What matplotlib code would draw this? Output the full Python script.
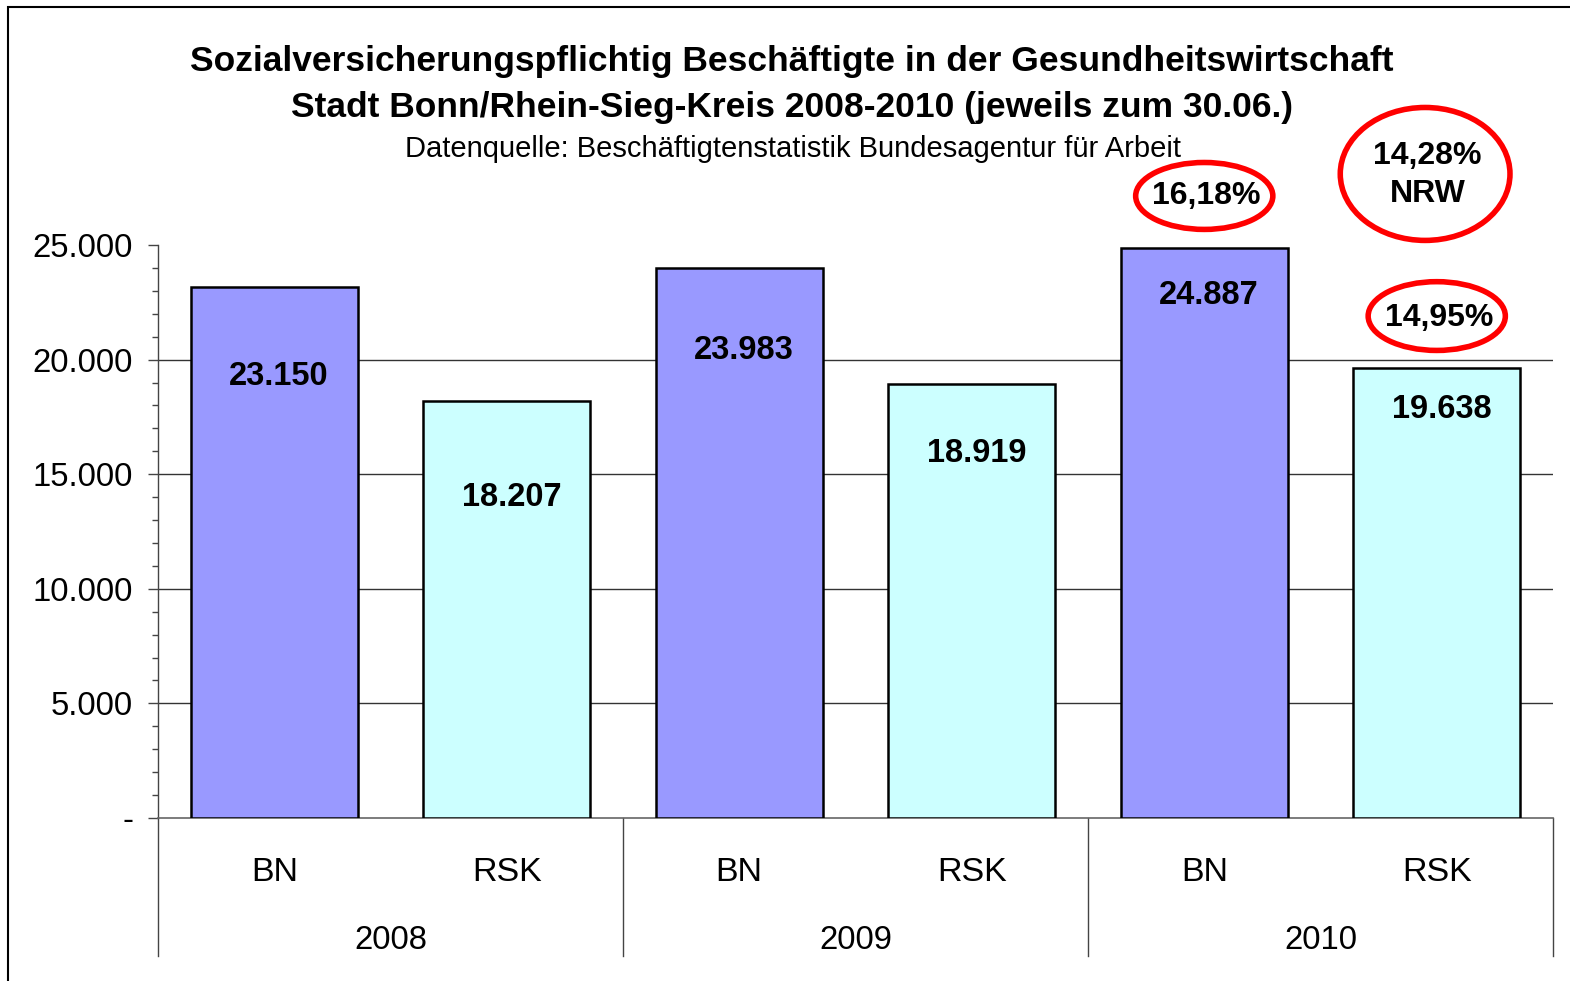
#!/usr/bin/env python3

import matplotlib
matplotlib.use("Agg")
import matplotlib.pyplot as plt
from matplotlib.patches import Ellipse, Rectangle
from matplotlib.ticker import FuncFormatter, MultipleLocator

plt.rcParams["font.family"] = ["Liberation Sans", "DejaVu Sans"]

years = ["2008", "2009", "2010"]
regions = ["BN", "RSK"]
values = [23150, 18207, 23983, 18919, 24887, 19638]
value_labels = ["23.150", "18.207", "23.983", "18.919", "24.887", "19.638"]
shares = ["16,18%", "14,95%"]
nrw_share = "14,28%"

colors = {"BN": "#9999ff", "RSK": "#ccffff"}

# label drop below bar top, pixels (as in the original layout)
label_drop = [89, 97, 82, 69, 48, 42]


def fmt(v, pos):
    if v == 0:
        return "-"
    return f"{int(v):,}".replace(",", ".")


fig = plt.figure(figsize=(15.7, 9.81), dpi=100)
ax = fig.add_axes([158 / 1570, 1 - 818 / 981, 1395 / 1570, 573 / 981])

n = len(values)
xs = list(range(n))
bar_colors = [colors[regions[i % 2]] for i in xs]
ax.bar(xs, values, width=0.72, color=bar_colors, edgecolor="black",
       linewidth=1.8, zorder=3)

for i, (v, lab) in enumerate(zip(values, value_labels)):
    ax.annotate(lab, (i + 0.02, v), xytext=(0, -label_drop[i]),
                textcoords="offset pixels", ha="center", va="center",
                fontsize=23.5, fontweight="bold", zorder=4)

ax.set_xlim(-0.5, n - 0.5)
ax.set_ylim(0, 25000)
ax.yaxis.set_major_locator(MultipleLocator(5000))
ax.yaxis.set_minor_locator(MultipleLocator(1000))
ax.yaxis.set_major_formatter(FuncFormatter(fmt))
ax.tick_params(axis="y", which="major", length=7, width=1, pad=11,
               labelsize=23.7, color="#444444")
ax.tick_params(axis="y", which="minor", length=4.5, width=1, color="#444444")

for y in [5000, 10000, 15000, 20000]:
    ax.axhline(y, color="#333333", linewidth=1, zorder=1)

ax.set_xticks(xs)
ax.set_xticklabels([regions[i % 2] for i in xs], fontsize=24.5)
ax.tick_params(axis="x", length=0, pad=28)

for s in ["top", "right"]:
    ax.spines[s].set_visible(False)
ax.spines["left"].set_color("#444444")
ax.spines["bottom"].set_color("#666666")
ax.spines["left"].set_linewidth(1)
ax.spines["bottom"].set_linewidth(1.2)

# group separators and year labels below the axis
trans = ax.get_xaxis_transform()
for k in range(len(years) + 1):
    ax.plot([-0.5 + 2 * k] * 2, [0, -0.24], transform=trans, color="#444444",
            linewidth=1, clip_on=False)
for k, yr in enumerate(years):
    ax.text(0.5 + 2 * k, -0.213, yr, transform=trans, ha="center",
            va="center", fontsize=23.7)

# red circled annotations
ell_kw = dict(fill=False, edgecolor="red", linewidth=4, clip_on=False,
              zorder=5)
ax.add_patch(Ellipse((4.0, 27140), 0.59, 2920, **ell_kw))
ax.text(4.01, 27140, shares[0], ha="center", va="center", fontsize=23,
        fontweight="bold", clip_on=False)
ax.add_patch(Ellipse((4.95, 28100), 0.73, 5800, **ell_kw))
ax.text(4.96, 28050, nrw_share + "\nNRW", ha="center", va="center",
        fontsize=23, fontweight="bold", linespacing=1.38, clip_on=False)
ax.add_patch(Ellipse((5.0, 21900), 0.59, 3000, **ell_kw))
ax.text(5.01, 21800, shares[1], ha="center", va="center", fontsize=23,
        fontweight="bold", clip_on=False)

# titles
fig.text(792 / 1570, 1 - 61 / 981,
         "Sozialversicherungspflichtig Beschäftigte in der Gesundheitswirtschaft",
         ha="center", va="center", fontsize=25.5, fontweight="bold")
fig.text(792 / 1570, 1 - 107 / 981,
         "Stadt Bonn/Rhein-Sieg-Kreis 2008-2010 (jeweils zum 30.06.)",
         ha="center", va="center", fontsize=25.5, fontweight="bold")
fig.text(793 / 1570, 1 - 149 / 981,
         "Datenquelle: Beschäftigtenstatistik Bundesagentur für Arbeit",
         ha="center", va="center", fontsize=21)

# outer frame
fig.patches.append(Rectangle((8 / 1570, -0.05), 1.1, 1 - 7 / 981 + 0.05,
                             transform=fig.transFigure, fill=False,
                             edgecolor="black", linewidth=1.5))

fig.savefig("out.png", dpi=100)
